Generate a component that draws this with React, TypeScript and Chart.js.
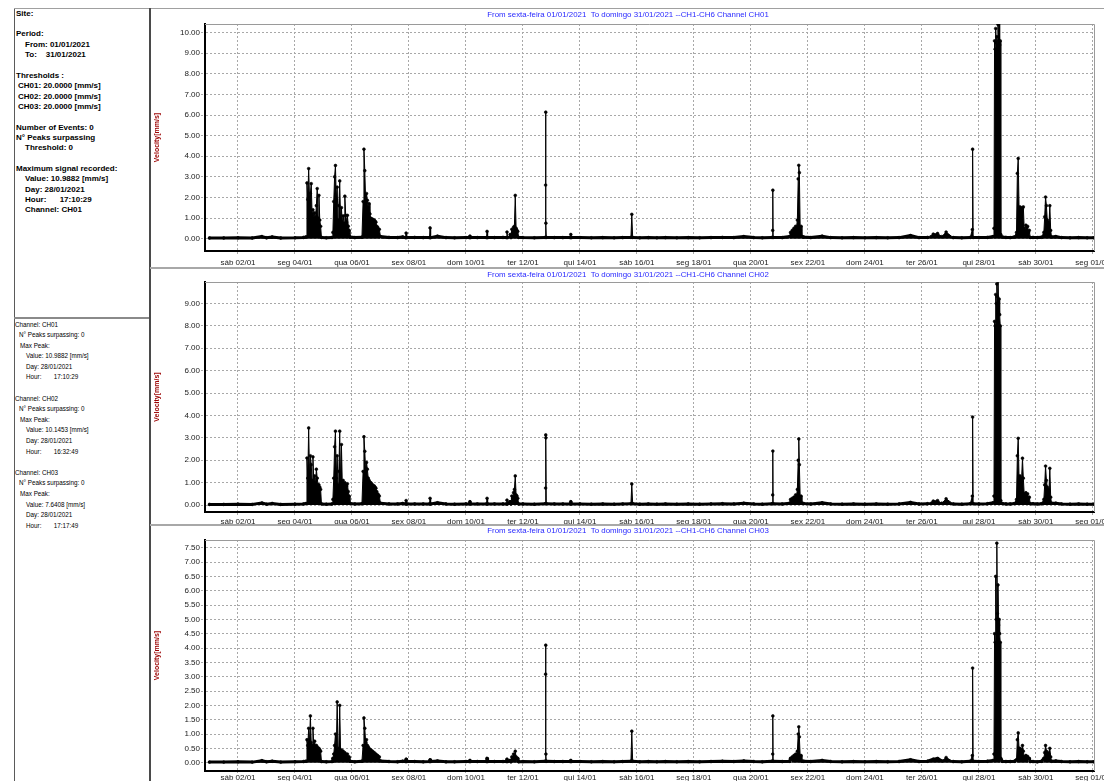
import React, { useEffect, useRef } from 'react';
import { Chart, registerables } from 'chart.js';

Chart.register(...registerables);

// ---- X axis: days since 01/01/2021 00:00 ----
const dayTicks = [1, 3, 5, 7, 9, 11, 13, 15, 17, 19, 21, 23, 25, 27, 29, 31];
const dayTickLabels = [
  'sáb 02/01', 'seg 04/01', 'qua 06/01', 'sex 08/01', 'dom 10/01', 'ter 12/01',
  'qui 14/01', 'sáb 16/01', 'seg 18/01', 'qua 20/01', 'sex 22/01', 'dom 24/01',
  'ter 26/01', 'qui 28/01', 'sáb 30/01', 'seg 01/02',
];

// ---- Y ticks per channel ----
const ch01YTicks = [0, 1, 2, 3, 4, 5, 6, 7, 8, 9, 10];
const ch02YTicks = [0, 0.5, 1, 1.5, 2, 2.5, 3, 3.5, 4, 4.5, 5, 5.5, 6, 6.5, 7, 7.5, 8, 8.5, 9, 9.5];
const ch03YTicks = [0, 0.5, 1, 1.5, 2, 2.5, 3, 3.5, 4, 4.5, 5, 5.5, 6, 6.5, 7, 7.5];

// ---- sample times (days since 01/01 00:00) ----
const times = [
  0.00, 0.50, 1.00, 1.50, 1.84, 2.00, 2.20, 2.50, 3.00, 3.30, 3.39,
  3.42, 3.45, 3.48, 3.51, 3.54, 3.57, 3.60, 3.63, 3.66, 3.69, 3.72, 3.75, 3.78, 3.81, 3.84, 3.87, 3.90,
  3.93, 4.10, 4.30,
  4.33, 4.36, 4.39, 4.42, 4.45, 4.48, 4.51, 4.54, 4.57, 4.60, 4.63, 4.66, 4.69, 4.72, 4.75, 4.78, 4.81, 4.84, 4.87, 4.90,
  4.93, 5.10, 5.35,
  5.39, 5.42, 5.45, 5.48, 5.51, 5.54, 5.57, 5.60, 5.63, 5.66, 5.69, 5.72, 5.75, 5.78, 5.81, 5.84, 5.87, 5.90, 5.93, 5.96,
  6.00, 6.30, 6.60, 6.78, 6.88, 6.90, 6.92, 7.20, 7.50, 7.72, 7.74, 7.76, 8.00, 8.30, 8.60, 9.00, 9.12, 9.14, 9.16, 9.40, 9.72, 9.74, 9.76, 10.00, 10.30, 10.42, 10.44, 10.46,
  10.55, 10.58, 10.61, 10.64, 10.67, 10.70, 10.73, 10.76, 10.79, 10.82, 10.85,
  11.00, 11.40, 11.78, 11.795, 11.80, 11.805, 11.82, 12.10,
  12.40, 12.66, 12.68, 12.70, 13.00, 13.40, 13.80, 14.20, 14.50, 14.79, 14.82, 14.85, 15.10, 15.40,
  15.70, 16.00, 16.40, 16.80, 17.20, 17.60, 18.00, 18.40, 18.75, 19.10, 19.40, 19.74, 19.765, 19.77, 19.78, 20.10,
  20.36, 20.39, 20.42, 20.45, 20.48, 20.51, 20.54, 20.57, 20.60, 20.63, 20.66, 20.68, 20.70, 20.73, 20.76, 20.79,
  20.85, 21.10, 21.50, 21.80, 22.20, 22.60, 23.00, 23.40, 23.80, 24.20, 24.60, 24.90, 25.20, 25.40, 25.55, 25.70, 25.85, 26.10, 26.40, 26.70, 26.77, 26.78, 26.80,
  27.00, 27.30, 27.50,
  27.53, 27.55, 27.57, 27.59, 27.61, 27.63, 27.65, 27.67, 27.69, 27.71, 27.73, 27.75, 27.77,
  27.82, 27.95, 28.10, 28.25,
  28.32, 28.35, 28.38, 28.41, 28.44, 28.47, 28.50, 28.53, 28.56, 28.59, 28.62, 28.65, 28.68, 28.71, 28.74, 28.77, 28.80,
  28.90, 29.05, 29.20,
  29.28, 29.31, 29.34, 29.37, 29.40, 29.43, 29.46, 29.49, 29.52, 29.55,
  29.70, 29.90, 30.20, 30.50, 30.80, 31.04,
];

// ---- Channel CH01 velocity [mm/s] ----
const ch01 = [
  0.03, 0.03, 0.04, 0.03, 0.10, 0.04, 0.08, 0.03, 0.04, 0.06, 0.08,
  2.70, 1.90, 3.40, 2.00, 2.20, 2.67, 1.20, 1.40, 1.00, 1.25, 1.00, 1.60, 2.43, 1.00, 2.10, 0.90, 0.60,
  0.06, 0.04, 0.06,
  0.30, 1.80, 3.00, 3.55, 1.90, 2.50, 0.90, 1.60, 2.80, 0.80, 1.50, 0.75, 1.10, 0.75, 2.06, 1.13, 0.80, 1.13, 0.60, 0.40,
  0.08, 0.05, 0.07,
  1.80, 4.34, 3.30, 1.80, 2.19, 1.86, 1.50, 1.70, 1.20, 0.99, 0.95, 0.95, 0.90, 0.90, 0.85, 0.80, 0.60, 0.55, 0.45, 0.45,
  0.10, 0.06, 0.05, 0.08, 0.05, 0.27, 0.05, 0.06, 0.05, 0.05, 0.52, 0.05, 0.12, 0.05, 0.04, 0.05, 0.05, 0.12, 0.05, 0.05, 0.05, 0.35, 0.05, 0.05, 0.06, 0.05, 0.32, 0.05,
  0.20, 0.05, 0.45, 0.30, 0.55, 0.60, 2.10, 0.50, 0.40, 0.35, 0.06,
  0.05, 0.04, 0.06, 2.60, 6.14, 0.75, 0.06, 0.05,
  0.05, 0.05, 0.20, 0.05, 0.05, 0.04, 0.05, 0.04, 0.05, 0.06, 1.18, 0.06, 0.04, 0.05,
  0.04, 0.05, 0.04, 0.05, 0.04, 0.05, 0.06, 0.05, 0.10, 0.05, 0.04, 0.06, 0.40, 2.35, 0.06, 0.05,
  0.10, 0.30, 0.25, 0.40, 0.35, 0.50, 0.45, 0.60, 0.55, 0.90, 2.90, 3.56, 3.20, 0.40, 0.60, 0.10,
  0.08, 0.05, 0.12, 0.05, 0.04, 0.05, 0.04, 0.05, 0.04, 0.05, 0.15, 0.05, 0.06, 0.22, 0.25, 0.10, 0.32, 0.05, 0.04, 0.06, 0.44, 4.34, 0.06,
  0.05, 0.06, 0.10,
  0.50, 9.60, 9.20, 10.20, 9.50, 9.80, 9.40, 10.40, 9.60, 10.99, 9.40, 9.60, 0.20,
  0.08, 0.06, 0.05, 0.08,
  0.30, 3.17, 3.89, 1.50, 1.54, 1.40, 1.50, 1.45, 1.54, 0.50, 0.40, 0.65, 0.55, 0.60, 0.30, 0.40, 0.06,
  0.06, 0.05, 0.07,
  0.30, 1.06, 2.02, 1.60, 0.90, 0.80, 0.70, 1.60, 0.40, 0.08,
  0.10, 0.05, 0.04, 0.05, 0.04, 0.04,
];

// ---- Channel CH02 velocity [mm/s] ----
const ch02 = [
  0.03, 0.03, 0.04, 0.03, 0.09, 0.04, 0.07, 0.03, 0.04, 0.05, 0.07,
  2.10, 1.20, 3.44, 1.30, 2.20, 1.80, 1.10, 2.15, 1.00, 1.30, 0.95, 1.60, 1.20, 0.90, 0.90, 0.80, 0.70,
  0.05, 0.04, 0.05,
  0.25, 1.20, 2.60, 3.30, 1.20, 2.20, 0.90, 1.50, 3.30, 0.90, 2.70, 0.95, 1.10, 0.90, 1.00, 0.90, 0.85, 0.95, 0.60, 0.40,
  0.07, 0.05, 0.06,
  1.50, 3.05, 2.40, 1.50, 1.90, 1.60, 1.20, 1.10, 1.00, 1.00, 0.95, 0.90, 0.85, 0.85, 0.80, 0.75, 0.60, 0.50, 0.45, 0.40,
  0.08, 0.05, 0.05, 0.07, 0.05, 0.20, 0.05, 0.05, 0.05, 0.05, 0.30, 0.05, 0.10, 0.05, 0.04, 0.05, 0.05, 0.15, 0.05, 0.05, 0.05, 0.30, 0.05, 0.05, 0.05, 0.05, 0.22, 0.05,
  0.15, 0.05, 0.40, 0.30, 0.55, 0.70, 1.30, 0.45, 0.40, 0.30, 0.05,
  0.05, 0.04, 0.06, 0.76, 3.13, 3.00, 0.06, 0.05,
  0.05, 0.05, 0.15, 0.05, 0.05, 0.04, 0.05, 0.04, 0.05, 0.06, 0.94, 0.06, 0.04, 0.05,
  0.04, 0.05, 0.04, 0.05, 0.04, 0.05, 0.06, 0.05, 0.08, 0.05, 0.04, 0.06, 0.45, 2.41, 0.06, 0.05,
  0.08, 0.25, 0.20, 0.30, 0.25, 0.35, 0.30, 0.45, 0.40, 0.70, 2.00, 2.95, 1.80, 0.30, 0.40, 0.08,
  0.07, 0.05, 0.10, 0.05, 0.04, 0.05, 0.04, 0.05, 0.04, 0.05, 0.12, 0.05, 0.06, 0.18, 0.20, 0.08, 0.28, 0.05, 0.04, 0.06, 0.40, 3.93, 0.06,
  0.05, 0.06, 0.10,
  0.40, 8.20, 8.00, 9.40, 9.00, 9.87, 9.30, 10.15, 9.00, 9.20, 8.50, 8.00, 0.20,
  0.07, 0.05, 0.05, 0.07,
  0.25, 2.20, 2.98, 1.20, 1.30, 1.15, 1.20, 2.09, 1.20, 0.50, 0.40, 0.55, 0.45, 0.50, 0.30, 0.35, 0.06,
  0.06, 0.05, 0.06,
  0.25, 0.90, 1.74, 1.10, 0.80, 0.70, 0.65, 1.64, 0.35, 0.08,
  0.08, 0.05, 0.04, 0.05, 0.04, 0.04,
];

// ---- Channel CH03 velocity [mm/s] ----
const ch03 = [
  0.02, 0.02, 0.03, 0.02, 0.07, 0.03, 0.05, 0.02, 0.03, 0.04, 0.05,
  0.80, 0.60, 1.20, 0.70, 1.63, 0.70, 0.60, 1.20, 0.60, 0.75, 0.55, 0.60, 0.55, 0.50, 0.50, 0.45, 0.40,
  0.04, 0.03, 0.04,
  0.15, 0.30, 0.60, 1.00, 0.40, 2.12, 0.40, 0.50, 2.00, 0.35, 0.45, 0.35, 0.40, 0.30, 0.35, 0.30, 0.28, 0.30, 0.20, 0.20,
  0.05, 0.03, 0.05,
  0.60, 1.56, 1.20, 0.70, 0.80, 0.60, 0.55, 0.50, 0.45, 0.45, 0.40, 0.40, 0.35, 0.35, 0.30, 0.30, 0.25, 0.25, 0.20, 0.20,
  0.06, 0.04, 0.03, 0.05, 0.04, 0.12, 0.04, 0.04, 0.03, 0.04, 0.10, 0.04, 0.06, 0.03, 0.03, 0.04, 0.04, 0.08, 0.04, 0.04, 0.04, 0.15, 0.04, 0.04, 0.04, 0.04, 0.12, 0.04,
  0.08, 0.03, 0.20, 0.15, 0.30, 0.25, 0.40, 0.20, 0.15, 0.15, 0.03,
  0.04, 0.03, 0.05, 3.09, 4.10, 0.30, 0.05, 0.04,
  0.04, 0.04, 0.08, 0.04, 0.04, 0.03, 0.04, 0.03, 0.04, 0.05, 1.10, 0.05, 0.03, 0.04,
  0.03, 0.04, 0.03, 0.04, 0.03, 0.04, 0.05, 0.04, 0.06, 0.04, 0.03, 0.05, 0.30, 1.63, 0.05, 0.04,
  0.05, 0.15, 0.12, 0.20, 0.18, 0.25, 0.22, 0.30, 0.28, 0.40, 1.00, 1.25, 0.90, 0.20, 0.25, 0.05,
  0.05, 0.04, 0.08, 0.04, 0.03, 0.04, 0.03, 0.04, 0.03, 0.04, 0.10, 0.04, 0.05, 0.12, 0.15, 0.06, 0.18, 0.04, 0.03, 0.05, 0.25, 3.30, 0.05,
  0.04, 0.05, 0.08,
  0.30, 4.50, 4.20, 6.50, 5.00, 7.66, 5.20, 6.20, 4.80, 5.00, 4.50, 4.20, 0.15,
  0.05, 0.04, 0.04, 0.05,
  0.10, 0.80, 1.04, 0.50, 0.50, 0.45, 0.45, 0.60, 0.40, 0.20, 0.20, 0.25, 0.20, 0.22, 0.15, 0.15, 0.04,
  0.04, 0.03, 0.05,
  0.15, 0.35, 0.60, 0.40, 0.35, 0.30, 0.30, 0.50, 0.20, 0.05,
  0.06, 0.04, 0.03, 0.04, 0.03, 0.03,
];

const titleBase = 'From sexta-feira 01/01/2021  To domingo 31/01/2021 --CH1-CH6 Channel ';

type PanelProps = {
  values: number[];
  channel: string;
  yMin: number;
  yMax: number;
  yTicks: number[];
  top: number;
  height: number;
  padTop: number;
  axisHeight: number;
  tickLen: number;
  tickPad: number;
  titleY: number;
};

const CANVAS_LEFT = 152;
const CANVAS_W = 952;

function ChannelPanel(p: PanelProps) {
  const ref = useRef<HTMLCanvasElement | null>(null);
  useEffect(() => {
    if (!ref.current) return;
    const n = Math.min(times.length, p.values.length);
    const pts = [] as { x: number; y: number }[];
    for (let i = 0; i < n; i++) pts.push({ x: times[i], y: p.values[i] });
    const vals = p.values;

    const framePlugin = {
      id: 'frame' + p.channel,
      beforeDatasetsDraw(chart: any) {
        const { ctx, chartArea: a } = chart;
        ctx.save();
        ctx.strokeStyle = '#9a9a9a';
        ctx.lineWidth = 1;
        ctx.beginPath();
        ctx.moveTo(a.left, a.top + 0.5);
        ctx.lineTo(a.right + 0.5, a.top + 0.5);
        ctx.lineTo(a.right + 0.5, a.bottom);
        ctx.stroke();
        ctx.restore();
      },
      afterDraw(chart: any) {
        const ctx = chart.ctx;
        ctx.save();
        ctx.font = '7.9px Arial, "Liberation Sans", sans-serif';
        ctx.fillStyle = '#2a2aff';
        ctx.textAlign = 'center';
        ctx.textBaseline = 'middle';
        ctx.fillText(titleBase + p.channel, chart.width / 2, p.titleY);
        ctx.restore();
      },
    };

    const tickFont = { family: 'Arial, "Liberation Sans", sans-serif', size: 8 };
    const chart = new Chart(ref.current, {
      type: 'line',
      data: {
        datasets: [
          {
            data: pts,
            borderColor: '#000',
            backgroundColor: '#000',
            fill: 'origin',
            borderWidth: 1,
            borderJoinStyle: 'round',
            borderCapStyle: 'round',
            pointRadius: 1.4,
            pointBackgroundColor: '#000',
            pointBorderColor: '#000',
            pointBorderWidth: 0.6,
            tension: 0,
            segment: {
              borderWidth: (ctx: any) =>
                vals[ctx.p0DataIndex] < 0.16 && vals[ctx.p1DataIndex] < 0.16 ? 3 : 1,
            },
          } as any,
        ],
      },
      options: {
        animation: false,
        responsive: false,
        maintainAspectRatio: false,
        devicePixelRatio: 1,
        events: [],
        layout: { padding: { top: p.padTop, right: 10, left: 0, bottom: 0 } },
        plugins: {
          legend: { display: false },
          tooltip: { enabled: false },
          title: { display: false },
          filler: { propagate: false },
        },
        scales: {
          x: {
            type: 'linear',
            min: -0.158,
            max: 31.04,
            afterBuildTicks: (s: any) => {
              s.ticks = dayTicks.map((v) => ({ value: v }));
            },
            afterFit: (s: any) => {
              s.height = p.axisHeight;
              s.paddingLeft = 0;
              s.paddingRight = 0;
            },
            ticks: {
              autoSkip: false,
              maxRotation: 0,
              minRotation: 0,
              font: tickFont,
              color: '#1a1a1a',
              padding: p.tickPad,
              callback: (_v: any, i: number) => dayTickLabels[i],
            },
            grid: {
              color: '#a8a8a8',
              lineWidth: 1,
              tickLength: p.tickLen,
              tickColor: '#a8a8a8',
              tickBorderDash: [2, 2],
            },
            border: { display: true, color: '#000', width: 2, dash: [2, 2] },
          },
          y: {
            min: p.yMin,
            max: p.yMax,
            afterBuildTicks: (s: any) => {
              s.ticks = p.yTicks.map((v) => ({ value: v }));
            },
            afterFit: (s: any) => {
              s.width = 53;
              s.paddingTop = 0;
              s.paddingBottom = 0;
            },
            ticks: {
              font: tickFont,
              color: '#1a1a1a',
              padding: 1,
              callback: (v: any) => Number(v).toFixed(2),
            },
            grid: {
              color: '#a8a8a8',
              lineWidth: 1,
              tickLength: 4,
              tickColor: '#a8a8a8',
              tickBorderDash: [2, 2],
            },
            border: { display: true, color: '#000', width: 2, dash: [2, 2] },
            title: {
              display: true,
              text: 'Velocity[mm/s]',
              color: '#9b0000',
              font: { family: 'Arial, "Liberation Sans", sans-serif', size: 7, weight: 'bold' },
              padding: { top: 1, bottom: 0 },
            },
          },
        },
      } as any,
      plugins: [framePlugin],
    });
    return () => chart.destroy();
  }, []);
  return (
    <canvas
      ref={ref}
      width={CANVAS_W}
      height={p.height}
      style={{ position: 'absolute', left: CANVAS_LEFT, top: p.top, width: CANVAS_W, height: p.height }}
    />
  );
}

const boldLine: React.CSSProperties = { whiteSpace: 'pre', height: 10.35, lineHeight: '10.35px' };
const smallLine: React.CSSProperties = { whiteSpace: 'pre', height: 10.6, lineHeight: '10.6px' };

function Info() {
  const topLines: [number, string][] = [
    [0, 'Site:'],
    [0, ''],
    [0, 'Period:'],
    [9, 'From: 01/01/2021'],
    [9, 'To:    31/01/2021'],
    [0, ''],
    [0, 'Thresholds :'],
    [2, 'CH01: 20.0000 [mm/s]'],
    [2, 'CH02: 20.0000 [mm/s]'],
    [2, 'CH03: 20.0000 [mm/s]'],
    [0, ''],
    [0, 'Number of Events: 0'],
    [0, 'N° Peaks surpassing'],
    [9, 'Threshold: 0'],
    [0, ''],
    [0, 'Maximum signal recorded:'],
    [9, 'Value: 10.9882 [mm/s]'],
    [9, 'Day: 28/01/2021'],
    [9, 'Hour:      17:10:29'],
    [9, 'Channel: CH01'],
  ];
  const chBlocks = [
    ['CH01', '10.9882', '28/01/2021', '17:10:29'],
    ['CH02', '10.1453', '28/01/2021', '16:32:49'],
    ['CH03', '7.6408', '28/01/2021', '17:17:49'],
  ];
  return (
    <>
      <div
        style={{
          position: 'absolute',
          left: 16,
          top: 8.8,
          font: 'bold 8px Arial, "Liberation Sans", sans-serif',
          color: '#000',
        }}
      >
        {topLines.map(([ind, s], i) => (
          <div key={i} style={{ ...boldLine, paddingLeft: ind }}>
            {s}
          </div>
        ))}
      </div>
      <div
        style={{
          position: 'absolute',
          left: 15,
          top: 319.5,
          font: '6.3px Arial, "Liberation Sans", sans-serif',
          color: '#000',
        }}
      >
        {chBlocks.map((b, k) => (
          <div key={k} style={{ marginBottom: k < 2 ? 10.6 : 0 }}>
            <div style={smallLine}>{'Channel: ' + b[0]}</div>
            <div style={{ ...smallLine, paddingLeft: 4 }}>{'N° Peaks surpassing: 0'}</div>
            <div style={{ ...smallLine, paddingLeft: 5 }}>{'Max Peak:'}</div>
            <div style={{ ...smallLine, paddingLeft: 11 }}>{'Value: ' + b[1] + ' [mm/s]'}</div>
            <div style={{ ...smallLine, paddingLeft: 11 }}>{'Day: ' + b[2]}</div>
            <div style={{ ...smallLine, paddingLeft: 11 }}>{'Hour:       ' + b[3]}</div>
          </div>
        ))}
      </div>
    </>
  );
}

export default function App() {
  return (
    <div
      style={{
        position: 'absolute',
        left: 0,
        top: 0,
        width: 1104,
        height: 781,
        overflow: 'hidden',
        background: '#fff',
      }}
    >
      {/* left info frame */}
      <div style={{ position: 'absolute', left: 14, top: 8, width: 1, height: 773, background: '#5a5a5a' }} />
      <div style={{ position: 'absolute', left: 14, top: 8, width: 1090, height: 1, background: '#a0a0a0' }} />
      <div style={{ position: 'absolute', left: 14, top: 317, width: 136, height: 2, background: '#8a8a8a' }} />
      {/* chart column frame */}
      <div style={{ position: 'absolute', left: 149, top: 8, width: 2, height: 773, background: '#4a4a4a' }} />
      <div style={{ position: 'absolute', left: 150, top: 267, width: 954, height: 2, background: '#a8a8a8' }} />
      <div style={{ position: 'absolute', left: 150, top: 524, width: 954, height: 2, background: '#a8a8a8' }} />
      <Info />
      <ChannelPanel
        values={ch01}
        channel="CH01"
        yMin={-0.6}
        yMax={10.42}
        yTicks={ch01YTicks}
        top={10}
        height={257}
        padTop={14}
        axisHeight={16}
        tickLen={5}
        tickPad={2}
        titleY={5}
      />
      <ChannelPanel
        values={ch02}
        channel="CH02"
        yMin={-0.31}
        yMax={9.96}
        yTicks={ch02YTicks}
        top={269}
        height={255}
        padTop={13}
        axisHeight={12}
        tickLen={3}
        tickPad={2}
        titleY={5.5}
      />
      <ChannelPanel
        values={ch03}
        channel="CH03"
        yMin={-0.29}
        yMax={7.77}
        yTicks={ch03YTicks}
        top={526}
        height={255}
        padTop={14}
        axisHeight={10}
        tickLen={2}
        tickPad={0}
        titleY={5}
      />
    </div>
  );
}
